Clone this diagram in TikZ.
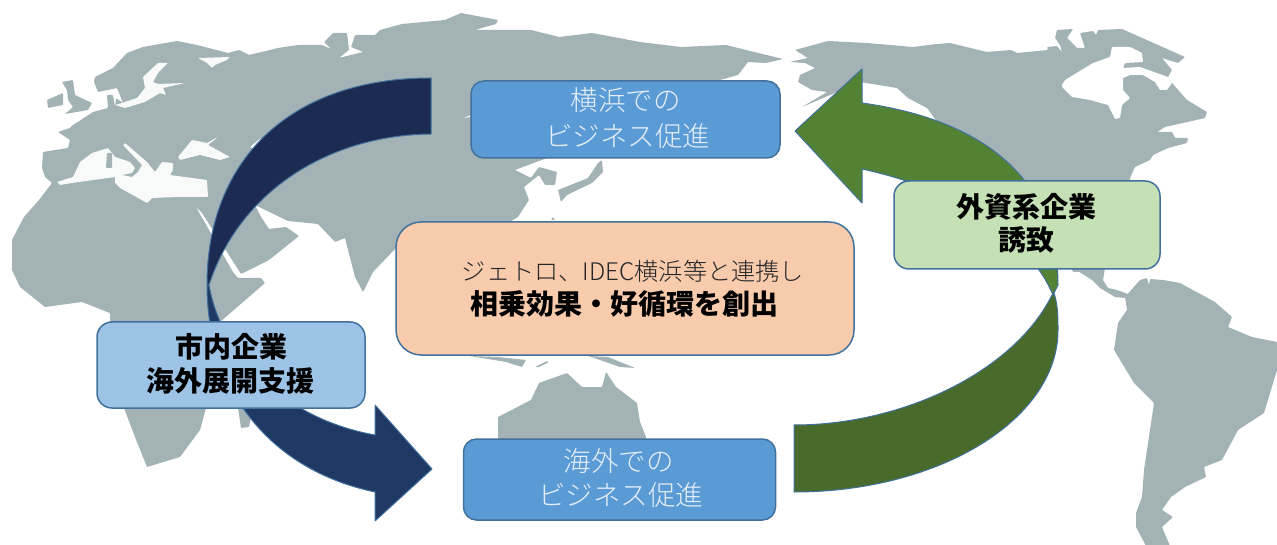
\documentclass[tikz,border=0pt]{standalone}
\usepackage{fontspec}
\setmainfont{Noto Sans CJK JP}
\newfontfamily\jplight{Noto Sans CJK JP Light}
\definecolor{landc}{HTML}{A2B2B5}
\definecolor{seac}{HTML}{F8FAF9}
\definecolor{edgec}{HTML}{41719C}
\definecolor{navya}{HTML}{1B2B52}
\definecolor{navyb}{HTML}{1F3864}
\definecolor{greena}{HTML}{548235}
\definecolor{greenb}{HTML}{486B2B}
\definecolor{bluebox}{HTML}{5B9BD5}
\definecolor{lightbox}{HTML}{9DC3E6}
\definecolor{greenbox}{HTML}{C5E0B4}
\definecolor{orangebox}{HTML}{F8CBAD}
\definecolor{paletext}{HTML}{E4EEF8}
\tikzset{
  land/.style={fill=landc,draw=none,rounded corners=0.8pt},
  sea/.style={fill=seac,draw=none,rounded corners=0.8pt},
  wsea/.style={fill=white,draw=none,rounded corners=0.8pt},
  band/.style={draw=edgec,line width=1pt,line join=round},
  panel/.style={draw=edgec,line width=1.5pt,inner sep=0pt},
  bluepanel/.style={panel,fill=bluebox,rounded corners=13pt},
  boldpanel/.style={panel,rounded corners=15pt},
  palelabel/.style={text=paletext,font=\jplight\fontsize{27.5}{30}\selectfont,inner sep=0pt},
  boldlabel/.style={text=black,font=\bfseries\fontsize{28}{30}\selectfont,inner sep=0pt}
}
\begin{document}
\begin{tikzpicture}[x=1pt,y=-1pt]
\useasboundingbox (0,0) rectangle (1277,545);
\begin{scope}
\clip (0,0) rectangle (1277,545);
% Eurasia and Africa
\path[land] (94,82) -- (95,77) -- (113,68) -- (127,53) -- (143,47) -- (177,41) -- (197,45) -- (228,53) -- (239,50) -- (249,55) -- (278,48) -- (298,45) -- (322,45) -- (331,49) -- (324,42) -- (333,33) -- (347,33) -- (349,50) -- (339,58) -- (351,55) -- (363,52) -- (351,47) -- (355,35) -- (375,35) -- (380,30) -- (402,24) -- (445,20) -- (461,13) -- (498,20) -- (496,24) -- (475,30) -- (531,30) -- (559,37) -- (592,33) -- (640,42) -- (681,47) -- (726,45) -- (783,59) -- (766,63) -- (748,62) -- (738,75) -- (720,80) -- (694,100) -- (612,133) -- (571,157) -- (547,158) -- (515,170) -- (531,178) -- (539,167) -- (557,172) -- (555,185) -- (545,185) -- (539,175) -- (524,187) -- (529,200) -- (518,217) -- (490,233) -- (408,240) -- (396,248) -- (373,272) -- (363,292) -- (355,277) -- (345,238) -- (335,242) -- (318,224) -- (288,221) -- (255,205) -- (261,217) -- (269,229) -- (286,227) -- (299,236) -- (269,260) -- (241,274) -- (202,213) -- (196,207) -- (233,272) -- (238,278) -- (261,278) -- (265,283) -- (220,322) -- (206,408) -- (200,430) -- (180,457) -- (147,467) -- (135,437) -- (124,408) -- (110,322) -- (110,313) -- (82,302) -- (45,307) -- (20,287) -- (12,270) -- (12,240) -- (24,217) -- (39,200) -- (52,183) -- (45,177) -- (42,168) -- (43,152) -- (68,148) -- (70,140) -- (58,132) -- (70,128) -- (73,125) -- (93,112) -- (108,108) -- (107,95) -- (113,95) -- (115,107) -- (116,98) -- (123,103) -- (117,88) -- (98,92) -- cycle;
% seas
\path[sea] (57,182) -- (73,177) -- (80,162) -- (92,153) -- (108,148) -- (115,157) -- (130,162) -- (135,168) -- (132,173) -- (122,175) -- (132,177) -- (138,172) -- (142,165) -- (123,145) -- (125,143) -- (147,162) -- (155,172) -- (162,162) -- (173,163) -- (173,170) -- (170,175) -- (207,180) -- (208,197) -- (190,197) -- (177,197) -- (152,198) -- (147,203) -- (120,188) -- (115,183) -- (115,177) -- (72,183) -- (60,185) -- cycle;
\path[land] (107,153) -- (112,153) -- (112,168) -- (106,168) -- cycle;
\path[sea] (178,157) -- (192,140) -- (207,143) -- (218,137) -- (208,145) -- (230,157) -- (220,160) -- (200,155) -- (180,160) -- cycle;
\path[sea] (143,77) -- (158,63) -- (168,63) -- (158,73) -- (153,82) -- (158,84) -- (185,83) -- (163,88) -- (166,95) -- (160,93) -- (145,102) -- (125,108) -- (115,105) -- (122,103) -- (137,98) -- (145,88) -- cycle;
\path[sea] (198,58) -- (230,57) -- (227,60) -- (215,65) -- (212,68) -- (207,63) -- cycle;
\path[sea] (250,147) -- (261,138) -- (263,147) -- (255,150) -- cycle;
\path[sea] (464,118) -- (471,115) -- (471,117) -- cycle;
% Britain and Ireland
\path[land] (47,100) -- (63,93) -- (63,105) -- (48,108) -- cycle;
\path[land] (62,82) -- (73,80) -- (75,95) -- (92,103) -- (88,110) -- (65,114) -- (73,107) -- (68,100) -- (67,90) -- cycle;
% Japan and nearby
\path[land] (561,202) -- (558,190) -- (588,178) -- (598,163) -- (602,160) -- (603,172) -- (592,183) -- (567,195) -- cycle;
\path[land] (551,220) -- (553,217) -- (555,220) -- cycle;
% Madagascar
\path[land] (238,408) -- (253,408) -- (249,427) -- (241,428) -- cycle;
% Indonesia and New Guinea
\path[land] (469,356) -- (498,357) -- (526,360) -- (522,367) -- (506,362) -- (482,358) -- cycle;
\path[land] (535,367) -- (547,361) -- (549,362) -- (539,367) -- cycle;
\path[land] (588,356) -- (608,357) -- (635,368) -- (620,367) -- (600,360) -- cycle;
% Australia
\path[land] (498,443) -- (498,417) -- (531,400) -- (539,383) -- (567,373) -- (582,387) -- (602,387) -- (606,372) -- (616,387) -- (637,403) -- (640,422) -- (646,437) -- (646,443) -- cycle;
% North America
\path[land] (795,50) -- (828,41) -- (867,43) -- (913,47) -- (937,44) -- (950,43) -- (987,52) -- (1011,50) -- (1017,53) -- (1048,50) -- (1047,47) -- (1057,46) -- (1062,52) -- (1060,45) -- (1055,38) -- (1057,30) -- (1073,29) -- (1067,38) -- (1077,48) -- (1085,48) -- (1080,33) -- (1093,31) -- (1096,35) -- (1098,30) -- (1122,29) -- (1140,37) -- (1185,57) -- (1178,63) -- (1162,58) -- (1172,70) -- (1168,77) -- (1172,83) -- (1187,100) -- (1207,112) -- (1205,118) -- (1183,123) -- (1165,127) -- (1157,132) -- (1172,132) -- (1175,138) -- (1188,138) -- (1187,143) -- (1168,148) -- (1153,155) -- (1150,160) -- (1135,167) -- (1130,178) -- (1130,200) -- (1100,272) -- (1073,272) -- (1040,200) -- (938,123) -- (927,108) -- (908,98) -- (897,88) -- (860,82) -- (830,95) -- (802,107) -- (827,92) -- (812,90) -- (798,82) -- (800,75) -- (815,68) -- (805,63) -- (790,62) -- (808,58) -- cycle;
% Hudson Bay and strait
\path[wsea] (1062,85) -- (1065,80) -- (1093,63) -- (1110,57) -- (1112,47) -- (1130,47) -- (1142,53) -- (1143,62) -- (1125,63) -- (1123,68) -- (1140,67) -- (1168,77) -- (1172,83) -- (1167,90) -- (1160,90) -- (1155,82) -- (1143,75) -- (1130,75) -- (1123,78) -- (1123,90) -- (1130,98) -- (1122,105) -- (1120,118) -- (1115,119) -- (1108,105) -- (1090,100) -- (1072,97) -- (1062,87) -- cycle;
% Central America
\path[land] (1073,268) -- (1092,280) -- (1100,288) -- (1115,297) -- (1125,298) -- (1128,294) -- (1117,290) -- (1108,288) -- (1103,280) -- (1105,268) -- cycle;
% South America
\path[land] (1125,297) -- (1140,280) -- (1147,278) -- (1149,285) -- (1150,279) -- (1163,280) -- (1180,283) -- (1215,302) -- (1232,317) -- (1228,327) -- (1252,337) -- (1277,342) -- (1277,370) -- (1264,413) -- (1238,430) -- (1222,460) -- (1204,467) -- (1206,477) -- (1185,487) -- (1171,497) -- (1162,510) -- (1173,517) -- (1162,527) -- (1170,546) -- (1146,546) -- (1136,527) -- (1136,513) -- (1142,497) -- (1144,470) -- (1154,403) -- (1134,383) -- (1114,350) -- (1118,323) -- (1127,310) -- cycle;
\end{scope}
% navy arrow, upper part
\draw[band,fill=navya] (431,78) .. controls (290,78) and (207,160) .. (207,285) -- (209,285) .. controls (240,190) and (330,135) .. (431,134) -- cycle;
% navy arrow, lower part with head
\draw[band,fill=navyb] (207,285) .. controls (207,390) and (270,470) .. (375,492) -- (375,521) -- (432,469) -- (375,405) -- (375,435) .. controls (290,420) and (222,360) .. (209,285) -- cycle;
% green arrow, lower part
\draw[band,fill=greenb] (1054,293) .. controls (1058,305) and (1058,318) .. (1058,330) .. controls (1058,419) and (940,492) .. (794,492) -- (794,425) .. controls (905,425) and (1015,370) .. (1052,295) -- cycle;
% green arrow, upper part with head
\draw[band,fill=greena] (1053,295) -- (1058,285) .. controls (1058,180) and (985,120) .. (862,103) -- (862,69) -- (795,131) -- (862,203) -- (862,169) .. controls (960,190) and (1030,240) .. (1053,295) -- cycle;
% boxes
\node[bluepanel,minimum width=309pt,minimum height=77pt] (yokohama) at (625.5,119.5) {};
\node[bluepanel,minimum width=312pt,minimum height=81pt] (kaigai) at (619.5,479.5) {};
\node[panel,fill=orangebox,rounded corners=25pt,minimum width=458pt,minimum height=133pt] (center) at (625,288.5) {};
\node[boldpanel,fill=lightbox,minimum width=268pt,minimum height=86pt] (shinai) at (231,365) {};
\node[boldpanel,fill=greenbox,minimum width=266pt,minimum height=88pt] (gaishi) at (1027,225) {};
% texts
\node[palelabel] (t1a) at (625.5,100.5) {横浜での};
\node[palelabel] (t1b) at (627.5,136) {ビジネス促進};
\node[palelabel] (t2a) at (618.5,461) {海外での};
\node[palelabel] (t2b) at (620.5,495) {ビジネス促進};
\node[text=black!85,font=\jplight\fontsize{24.2}{28}\selectfont,inner sep=0pt] (t3a) at (633,271) {ジェトロ、IDEC横浜等と連携し};
\node[boldlabel] (t3b) at (624.5,304) {相乗効果・好循環を創出};
\node[boldlabel] (t4a) at (231,347) {市内企業};
\node[boldlabel] (t4b) at (230.5,381) {海外展開支援};
\node[boldlabel] (t5a) at (1026.5,207) {外資系企業};
\node[boldlabel] (t5b) at (1026.5,240) {誘致};
\end{tikzpicture}
\end{document}
